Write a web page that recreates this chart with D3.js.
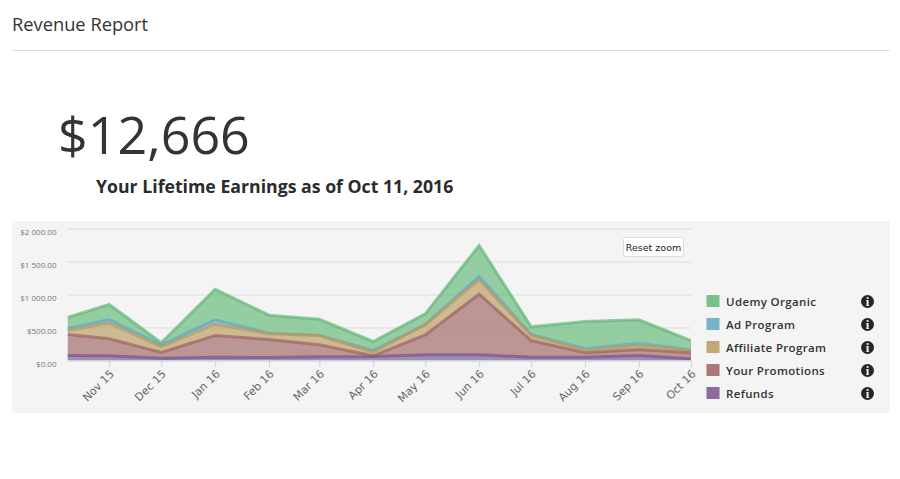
<!DOCTYPE html>
<meta charset="utf-8">
<style>
body { margin: 0; background: #fff; }
svg { display: block; }
text { font-family: "Open Sans", sans-serif; }
.lbl { font-family: "DejaVu Sans", sans-serif; }
</style>
<svg width="900" height="479"></svg>
<script src="https://d3js.org/d3.v7.min.js"></script>
<script>

// first point is cut off by the zoomed window, so it isn't on the 1st of a month
var dates = ["2015-10-08", "2015-11-01", "2015-12-01", "2016-01-01", "2016-02-01", "2016-03-01", "2016-04-01",
             "2016-05-01", "2016-06-01", "2016-07-01", "2016-08-01", "2016-09-01", "2016-10-01"];
var refunds    = [76, 71, 35, 51, 45, 56, 61, 86, 86, 51, 51, 76, 25];
var promotions = [318, 257, 86, 328, 273, 181, 10, 303, 918, 252, 65, 91, 91];
var affiliate  = [60, 238, 86, 171, 86, 142, 55, 151, 218, 76, 36, 60, 36];
var adProgram  = [31, 55, 30, 66, 10, 0, 26, 5, 51, 15, 25, 36, 5];
var organic    = [166, 227, 31, 464, 273, 246, 136, 162, 470, 116, 414, 353, 146];

var seriesNames = ["Refunds", "Your Promotions", "Affiliate Program", "Ad Program", "Udemy Organic"];
var seriesValues = [refunds, promotions, affiliate, adProgram, organic];
var seriesColors = ["#77548a", "#9e6262", "#b89a5e", "#62a6bd", "#62b877"];
var legendOrder = ["Udemy Organic", "Ad Program", "Affiliate Program", "Your Promotions", "Refunds"];
var yTicks = [0, 500, 1000, 1500, 2000];

var svg = d3.select("svg"),
    parseDate = d3.utcParse("%Y-%m-%d"),
    xDates = dates.map(parseDate);

// header
svg.append("text").attr("x", 12).attr("y", 31).attr("fill", "#333")
    .style("font-size", "18.3px").text("Revenue Report");
svg.append("line").attr("x1", 12).attr("x2", 890).attr("y1", 50.5).attr("y2", 50.5)
    .attr("stroke", "#ddd");
svg.append("text").attr("x", 58).attr("y", 154).attr("fill", "#333")
    .style("font-size", "52px").text("$12,666");
svg.append("text").attr("x", 96).attr("y", 193).attr("fill", "#2b2b2b")
    .style("font-size", "17.7px").style("font-weight", 700)
    .text("Your Lifetime Earnings as of Oct 11, 2016");

// chart panel
svg.append("rect").attr("x", 12).attr("y", 221).attr("width", 878).attr("height", 192)
    .attr("fill", "#f4f4f4");

var x = d3.scaleUtc().domain(d3.extent(xDates)).range([67.5, 691]),
    y = d3.scaleLinear().domain([0, 2000]).range([360.5, 228.5]);

var money = d3.formatLocale({decimal: ".", thousands: " ", grouping: [3], currency: ["$", ""]}).format("$,.2f");

// grid + y labels
var yAxis = svg.append("g").attr("transform", "translate(67.5,0)")
    .call(d3.axisLeft(y).tickValues(yTicks).tickFormat(money).tickSize(-623.5).tickPadding(11));
yAxis.select(".domain").remove();
yAxis.selectAll("line").attr("stroke", "#dcdcdc");
yAxis.selectAll("text").attr("fill", "#777").attr("y", 3.5).style("font-size", "8px");

// stacked areas
var rows = xDates.map(function(d, i) {
  var row = {date: d};
  seriesNames.forEach(function(name, j) { row[name] = seriesValues[j][i]; });
  return row;
});
var stacked = d3.stack().keys(seriesNames)(rows);

var area = d3.area()
    .x(function(d) { return x(d.data.date); })
    .y0(function(d) { return y(d[0]); })
    .y1(function(d) { return y(d[1]); });
var topLine = d3.line()
    .x(function(d) { return x(d.data.date); })
    .y(function(d) { return y(d[1]); });

svg.append("clipPath").attr("id", "plot").append("rect")
    .attr("x", 67.5).attr("y", 221).attr("width", 623.5).attr("height", 139.5);

var plot = svg.append("g").attr("clip-path", "url(#plot)");
var layers = plot.selectAll("g").data(stacked.slice().reverse()).enter().append("g");
layers.append("path").attr("d", area)
    .attr("fill", function(d) { return seriesColors[d.index]; })
    .attr("fill-opacity", 0.65);
layers.append("path").attr("d", topLine)
    .attr("fill", "none")
    .attr("stroke", function(d) { return seriesColors[d.index]; })
    .attr("stroke-opacity", 0.7)
    .attr("stroke-width", 3)
    .attr("stroke-linejoin", "miter");

// x axis
var xAxis = svg.append("g").attr("transform", "translate(0,360.5)")
    .call(d3.axisBottom(x).tickValues(xDates.slice(1)).tickFormat(d3.utcFormat("%b %y")).tickSize(7).tickSizeOuter(0));
xAxis.select(".domain").attr("stroke", "#c8d6e6");
xAxis.selectAll("line").attr("stroke", "#c8d6e6");
xAxis.selectAll("text")
    .attr("class", "lbl")
    .attr("fill", "#666")
    .attr("text-anchor", "end")
    .attr("dy", null)
    .attr("y", 0)
    .attr("transform", "translate(5,14) rotate(-45)")
    .style("font-size", "11px");

// reset zoom button
svg.append("rect").attr("x", 623.5).attr("y", 237.5).attr("width", 60).attr("height", 19).attr("rx", 2)
    .attr("fill", "#fff").attr("stroke", "#ddd");
svg.append("text").attr("class", "lbl").attr("x", 653.5).attr("y", 250.5).attr("text-anchor", "middle")
    .attr("fill", "#222").style("font-size", "9.5px").text("Reset zoom");

// legend
var legend = svg.selectAll(".legend").data(legendOrder).enter().append("g")
    .attr("class", "legend")
    .attr("transform", function(d, i) { return "translate(0," + (i * 23) + ")"; });
legend.append("rect").attr("x", 706.5).attr("y", 295).attr("width", 13).attr("height", 12)
    .attr("fill", function(d) { return seriesColors[seriesNames.indexOf(d)]; })
    .attr("fill-opacity", 0.85);
legend.append("text").attr("x", 726).attr("y", 306)
    .attr("fill", "#333").style("font-size", "11.5px").style("font-weight", 600).style("letter-spacing", "0.35px")
    .text(function(d) { return d; });
legend.append("circle").attr("cx", 867.5).attr("cy", 301.5).attr("r", 6.5).attr("fill", "#262626");
legend.append("text").attr("x", 867.5).attr("y", 306).attr("text-anchor", "middle")
    .attr("fill", "#f4f4f4").style("font-family", "Liberation Serif").style("font-weight", 700)
    .style("font-size", "12.5px").text("i");

</script>
